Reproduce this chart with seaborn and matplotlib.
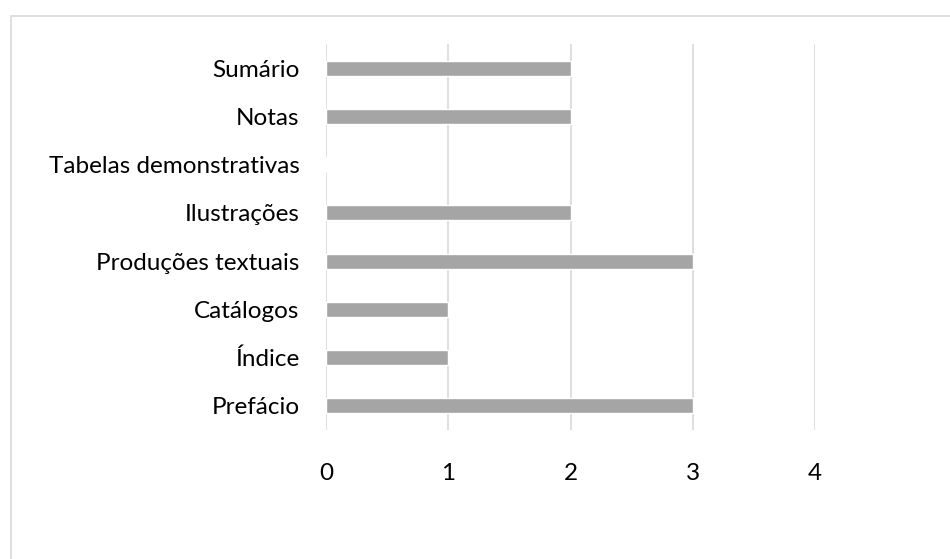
import matplotlib
matplotlib.use("Agg")
import matplotlib.pyplot as plt
import matplotlib.patches as mpatches
import seaborn as sns
import pandas as pd

categories = ["Sumário", "Notas", "Tabelas demonstrativas", "Ilustrações",
              "Produções textuais", "Catálogos", "Índice", "Prefácio"]
values = [2, 2, 0, 2, 3, 1, 1, 3]
x_ticks = [0, 1, 2, 3, 4]

df = pd.DataFrame({"categoria": categories, "valor": values})

sns.set_theme(style="white")
plt.rcParams["font.family"] = ["Lato", "DejaVu Sans"]

fig = plt.figure(figsize=(9.5, 5.59), dpi=100)
ax = fig.add_axes([326 / 950, 1 - 430 / 559, (815 - 326) / 950, (430 - 44) / 559])

sns.barplot(data=df, x="valor", y="categoria", order=categories,
            color="#a5a5a5", saturation=1, width=0.31, ax=ax, zorder=3)

ax.set_xlim(0, 4)
ax.set_xticks(x_ticks)
ax.set_xticklabels([str(t) for t in x_ticks])
ax.grid(axis="x", color="#d9d9d9", linewidth=1.2, zorder=0)
ax.grid(axis="y", visible=False)
for s in ax.spines.values():
    s.set_visible(False)
ax.tick_params(axis="x", length=0, pad=24, labelsize=17.5, colors="#000000")
ax.tick_params(axis="y", length=0, pad=19, labelsize=17.5, colors="#000000")
ax.set_xlabel("")
ax.set_ylabel("")

# chart frame
frame = mpatches.Rectangle((11 / 950, -0.05), 1.0, 1 - 16 / 559 + 0.05,
                           transform=fig.transFigure, fill=False,
                           edgecolor="#d9d9d9", linewidth=1.2)
fig.patches.append(frame)

fig.savefig("out.png", dpi=100)
